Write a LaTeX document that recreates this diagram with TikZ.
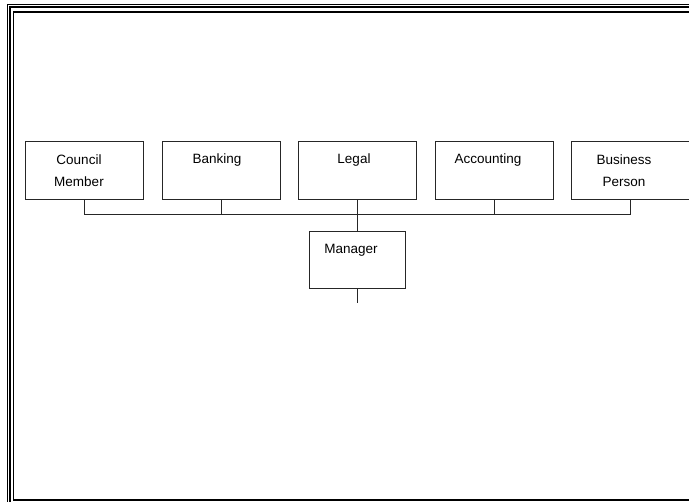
\documentclass[tikz,border=0pt]{standalone}
\usepackage{fontspec}
\setmainfont{Liberation Sans}
\begin{document}
\begin{tikzpicture}[x=1pt,y=-1pt,
  box/.style={draw=black!85,line width=1pt,minimum width=118pt,minimum height=58pt,inner sep=0pt},
  mbox/.style={draw=black!85,line width=1pt,minimum width=96pt,minimum height=57pt,inner sep=0pt},
  txt/.style={font=\fontsize{13.5}{22}\selectfont,align=center,inner sep=0pt},
  link/.style={draw=black!85,line width=1pt}]
\useasboundingbox (0,0) rectangle (689,502);
\begin{scope}
\clip (0,0) rectangle (689,502);
\draw[line width=1pt] (7.5,4.5) rectangle (720,530);
\draw[line width=2pt] (10,7.5) rectangle (720,520);
\draw[line width=1.6pt] (13.3,12) rectangle (720,500.3);
\end{scope}
% boxes
\node[box] (cm) at (84,171) {};
\node[box] (bk) at (221,171) {};
\node[box] (lg) at (357,171) {};
\node[box] (ac) at (494,171) {};
\node[box] (bp) at (630,171) {};
\node[mbox] (mg) at (357,260.5) {};
% texts
\node[txt] (tcm) at (79,171) {Council\\Member};
\node[txt] (tbk) at (217,160) {Banking};
\node[txt] (tlg) at (354,160) {Legal};
\node[txt] (tac) at (488,160) {Accounting};
\node[txt] (tbp) at (624,171) {Business\\Person};
\node[txt] (tmg) at (351,250) {Manager};
% connectors
\coordinate (bl) at (84,214.5);
\coordinate (br) at (631,214.5);
\coordinate (end) at (357,303);
\draw[link] (bl) -- (br);
\draw[link] (cm.south) -- (cm.south |- bl);
\draw[link] (bk.south) -- (bk.south |- bl);
\draw[link] (ac.south) -- (ac.south |- bl);
\draw[link] (bp.south) -- (bp.south |- bl);
\draw[link] (lg.south) -- (mg.north);
\draw[link] (mg.south) -- (end);
\end{tikzpicture}
\end{document}
